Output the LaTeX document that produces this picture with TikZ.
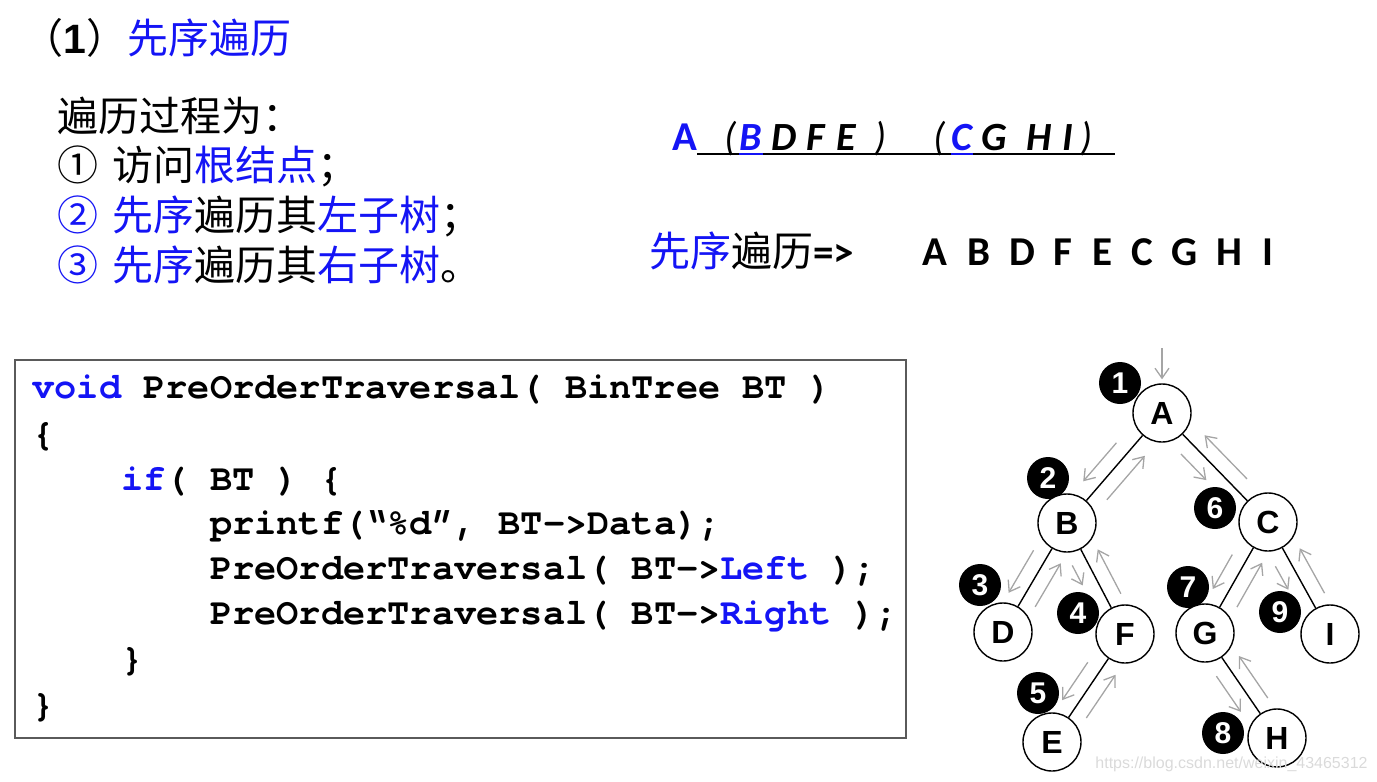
\documentclass[tikz,border=0pt]{standalone}
\usepackage{fontspec}
\setmainfont{Noto Sans CJK SC}
\newfontfamily\calibri{Carlito}
\newfontfamily\arialfont{Liberation Sans}
\newfontfamily\courfont{texgyrecursor}[Extension=.otf,UprightFont=*-regular,BoldFont=*-bold]
\usetikzlibrary{calc,arrows.meta}
\definecolor{kwblue}{RGB}{20,20,245}
\definecolor{walkgray}{RGB}{165,165,165}
\definecolor{wmgray}{RGB}{218,218,218}
\definecolor{boxgray}{RGB}{90,90,90}

\begin{document}
\begin{tikzpicture}[x=0.5pt,y=-0.5pt]
    		\newcommand{\off}{7.5pt} % side offset of the walking arrows
    		\newcommand{\cw}{22.2} % width of one code character
    		\newcommand{\gap}{\hspace{0.35em}} % space after the circled numbers

    		% set the styles of texts, vertices and arrows
    		\tikzset{
    			cn/.style={inner sep=0pt, anchor=base west, font=\fontsize{20.5pt}{24pt}\selectfont},
    			head/.style={inner sep=0pt, anchor=base west, font=\fontsize{20.5pt}{24pt}\selectfont},
    			seq/.style={inner sep=0pt, anchor=base, font=\calibri\bfseries\fontsize{20.5pt}{24pt}\selectfont},
    			seqi/.style={inner sep=0pt, anchor=base, font=\calibri\bfseries\itshape\fontsize{20pt}{24pt}\selectfont},
    			paren/.style={inner sep=0pt, anchor=base, font=\calibri\itshape\fontsize{20pt}{24pt}\selectfont},
    			code/.style={inner sep=0pt, anchor=base west, font=\courfont\bfseries\fontsize{18.5pt}{22pt}\selectfont},
    			vert/.style={draw, circle, fill=white, minimum size=29pt, inner sep=0pt, line width=0.7pt,
    				font=\arialfont\bfseries\fontsize{16pt}{18pt}\selectfont},
    			badge/.style={circle, fill=black, text=white, minimum size=21pt, inner sep=0pt,
    				font=\arialfont\bfseries\fontsize{15pt}{17pt}\selectfont},
    			edge/.style={line width=0.7pt},
    			walk/.style={walkgray, line width=0.65pt, -{Straight Barb[length=5pt,width=7pt]}}
    		}

    		% title and rules
    		\node[head] (title) at (22,53) {（{\arialfont\bfseries 1}）\textcolor{kwblue}{先序遍历}};
    		\node[cn] (rule0) at (57,131) {遍历过程为：};
    		\node[cn] (rule1) at (57,180) {①\gap 访问\textcolor{kwblue}{根结点}；};
    		\node[cn] (rule2) at (57,230) {\textcolor{kwblue}{②\gap 先序}遍历其\textcolor{kwblue}{左子树}；};
    		\node[cn] (rule3) at (57,280) {\textcolor{kwblue}{③\gap 先序}遍历其\textcolor{kwblue}{右子树}。};

    		% root ( left subtree ) ( right subtree )
    		\node[seq, text=kwblue] (pA) at (685,150) {A};
    		\node[paren] (pL1) at (731,150) {(};
    		\node[seqi, text=kwblue] (pB) at (751,150) {B};
    		\node[seqi] (pD) at (784,150) {D};
    		\node[seqi] (pF) at (816,150) {F};
    		\node[seqi] (pE) at (846,150) {E};
    		\node[paren] (pR1) at (881,150) {)};
    		\node[paren] (pL2) at (940,150) {(};
    		\node[seqi, text=kwblue] (pC) at (962,150) {C};
    		\node[seqi] (pG) at (994,150) {G};
    		\node[seqi] (pH) at (1039,150) {H};
    		\node[seqi] (pI) at (1068,150) {I};
    		\node[paren] (pR2) at (1087,150) {)};
    		\coordinate (ulL) at (697,154);
    		\coordinate (ulR) at (1115,154);
    		\draw[line width=1pt] (ulL) -- (ulR);
    		\draw[kwblue, line width=1.2pt] (pB.west |- ulL) -- (pB.east |- ulL);
    		\draw[kwblue, line width=1.2pt] (pC.west |- ulL) -- (pC.east |- ulL);

    		% result
    		\node[head] (res) at (649,266) {\textcolor{kwblue}{先序}遍历{\calibri\bfseries =>}};
    		\foreach \l/\x in {A/935,B/979,D/1022,F/1063,E/1102,C/1142,G/1185,H/1229,I/1268}
    		  \node[seq] (r\l) at (\x,265) {\l};

    		% code
    		\draw[boxgray, line width=1pt] (15,360) rectangle (906,738);
    		\node[code] (c1) at (32,398) {\textcolor{kwblue}{void} PreOrderTraversal( BinTree BT )};
    		\node[code] (c2) at (32,445) {\{};
    		\node[code] (c3) at (32+4*\cw,490) {\textcolor{kwblue}{if}( BT ) \{};
    		\node[code] (c4) at (32+8*\cw,534) {printf(“\%d”, BT->Data);};
    		\node[code] (c5) at (32+8*\cw,579) {PreOrderTraversal( BT->\textcolor{kwblue}{Left} );};
    		\node[code] (c6) at (32+8*\cw,624) {PreOrderTraversal( BT->\textcolor{kwblue}{Right} );};
    		\node[code] (c7) at (32+4*\cw,670) {\}};
    		\node[code] (c8) at (32,716) {\}};

    		% step numbers (under the vertices)
    		\node[badge] (s1) at (1120,383) {1};
    		\node[badge] (s2) at (1048,478) {2};
    		\node[badge] (s3) at (980,585) {3};
    		\node[badge] (s4) at (1078,613) {4};
    		\node[badge] (s5) at (1038,693) {5};
    		\node[badge] (s6) at (1215,508) {6};
    		\node[badge] (s7) at (1188,587) {7};
    		\node[badge] (s8) at (1223,733) {8};
    		\node[badge] (s9) at (1280,612) {9};

    		% vertices
    		\node[vert] (A) at (1162,413) {A};
    		\node[vert] (B) at (1067,523) {B};
    		\node[vert] (C) at (1268,522) {C};
    		\node[vert] (D) at (1003,632) {D};
    		\node[vert] (F) at (1125,634) {F};
    		\node[vert] (G) at (1205,633) {G};
    		\node[vert] (I) at (1330,634) {I};
    		\node[vert] (E) at (1052,742) {E};
    		\node[vert] (H) at (1277,738) {H};

    		% edges and the walk along them (down on one side, back up on the other)
    		\coordinate (entry) at (1162,348);
    		\draw[walk, shorten >=2pt] (entry) -- (A);
    		\foreach \u/\v/\s/\e in {A/B/0.36/0.71, B/D/0.32/0.71, B/F/0.32/0.5, F/E/0.34/0.69,
    		                          A/C/0.28/0.52, C/G/0.36/0.67, G/H/0.33/0.67, C/I/0.33/0.54} {
    		  \draw[edge] (\u) -- (\v);
    		  \draw[walk] ($(\u)!\s!(\v)!\off!-90:(\v)$) -- ($(\u)!\e!(\v)!\off!-90:(\v)$);
    		  \draw[walk] ($(\v)!0.3!(\u)!\off!-90:(\u)$) -- ($(\v)!0.7!(\u)!\off!-90:(\u)$);
    		}

    		\node[anchor=east, inner sep=0pt, text=wmgray, font=\arialfont\fontsize{8pt}{9pt}\selectfont] (wm) at (1368,764) {https://blog.csdn.net/weixin\_43465312};

    		\useasboundingbox (0,0) rectangle (1377,782);
\end{tikzpicture}
\end{document}
